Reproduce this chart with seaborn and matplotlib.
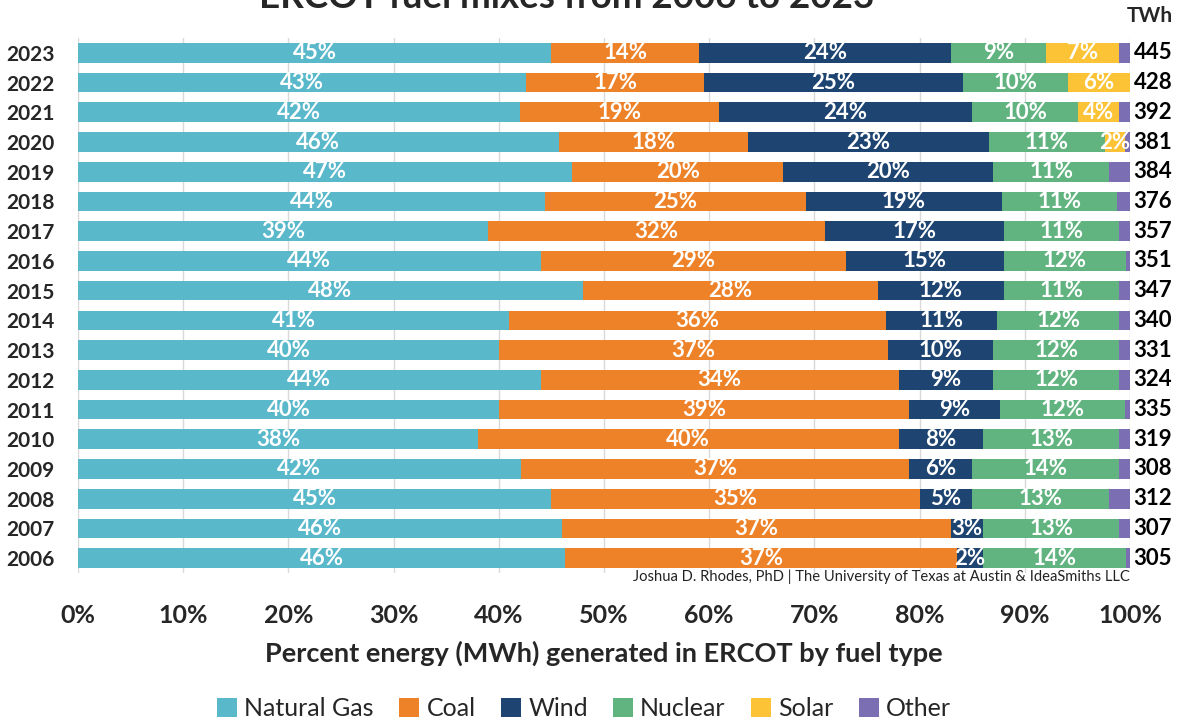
import numpy as np
import pandas as pd
import matplotlib
matplotlib.use("Agg")
import matplotlib.pyplot as plt
import seaborn as sns
from matplotlib.patches import Patch

years = [2023, 2022, 2021, 2020, 2019, 2018, 2017, 2016, 2015,
         2014, 2013, 2012, 2011, 2010, 2009, 2008, 2007, 2006]
fuels = ["Natural Gas", "Coal", "Wind", "Nuclear", "Solar", "Other"]
natural_gas = [45.0, 42.6, 42.0, 45.7, 47.0, 44.4, 39.0, 44.0, 48.0,
               41.0, 40.0, 44.0, 40.0, 38.0, 42.1, 45.0, 46.0, 46.3]
coal = [14.0, 16.9, 18.9, 18.0, 20.0, 24.8, 32.0, 29.0, 28.0,
        35.8, 37.0, 34.0, 39.0, 40.0, 36.9, 35.0, 37.0, 37.3]
wind = [24.0, 24.6, 24.1, 22.9, 20.0, 18.6, 17.0, 15.0, 12.0,
        10.6, 10.0, 9.0, 8.6, 8.0, 6.0, 5.0, 3.0, 2.4]
nuclear = [9.0, 10.0, 10.1, 11.0, 11.0, 11.0, 11.0, 11.6, 11.0,
           11.6, 12.0, 12.0, 11.9, 13.0, 14.0, 13.0, 13.0, 13.6]
solar = [7.0, 5.9, 3.9, 1.9, 0, 0, 0, 0, 0,
         0, 0, 0, 0, 0, 0, 0, 0, 0]
other = [1.0, 0.0, 1.0, 0.5, 2.0, 1.2, 1.0, 0.4, 1.0,
         1.0, 1.0, 1.0, 0.5, 1.0, 1.0, 2.0, 1.0, 0.4]
twh = [445, 428, 392, 381, 384, 376, 357, 351, 347,
       340, 331, 324, 335, 319, 308, 312, 307, 305]
colors = ["#5AB8CB", "#EE8229", "#1E4571", "#61B47F", "#FDC337", "#7C6EB2"]

sns.set_theme(style="white")
plt.rcParams["font.family"] = ["Lato", "DejaVu Sans"]

series = [natural_gas, coal, wind, nuclear, solar, other]
df = pd.DataFrame({f: s for f, s in zip(fuels, series)})
df["Year"] = [str(y) for y in years]
cum = df[fuels].cumsum(axis=1)
order = [str(y) for y in years]

fig = plt.figure(figsize=(11.78, 7.23), dpi=100)
ax = fig.add_axes([78 / 1178, 1 - 573 / 723, 1052 / 1178, 535 / 723])

for i in range(len(fuels) - 1, -1, -1):
    d = pd.DataFrame({"Year": df["Year"], "val": cum[fuels[i]]})
    sns.barplot(data=d, x="val", y="Year", order=order, orient="h",
                color=colors[i], width=0.66, saturation=1, ax=ax,
                zorder=2, linewidth=0)

# percentage labels
for i, f in enumerate(fuels[:-1]):
    for r in range(len(years)):
        v = df[f].iloc[r]
        if v < 1:
            continue
        center = cum[f].iloc[r] - v / 2
        ax.text(center, r, f"{int(round(v))}%", ha="center", va="center",
                color="white", fontsize=16, fontweight="bold", zorder=5)

# TWh totals
for r, t in enumerate(twh):
    ax.text(100.35, r, str(t), ha="left", va="center", fontsize=16,
            fontweight="bold", color="black", clip_on=False)

ax.set_xlim(0, 100)
ax.set_ylim(len(years) - 0.5, -0.5)
ax.set_xticks(np.arange(0, 101, 10))
ax.set_xticklabels([f"{v}%" for v in range(0, 101, 10)])
ax.grid(axis="x", color="#D9D9D9", linewidth=1, zorder=0)
ax.grid(axis="y", visible=False)
ax.set_axisbelow(True)
for s in ax.spines.values():
    s.set_visible(False)
ax.tick_params(axis="x", length=0, pad=22, labelsize=18)
ax.tick_params(axis="y", length=0, pad=17, labelsize=15)
for lbl in ax.get_xticklabels() + ax.get_yticklabels():
    lbl.set_fontweight("bold")
ax.set_ylabel("")
ax.set_xlabel("Percent energy (MWh) generated in ERCOT by fuel type",
              fontsize=19.5, fontweight="bold", labelpad=10)

fig.text(567 / 1178, 1 - 8 / 723, "ERCOT fuel mixes from 2006 to 2023",
         ha="center", va="baseline", fontsize=26.5, fontweight="bold")
fig.text(1150 / 1178, 1 - 16 / 723, "TWh", ha="center", va="center",
         fontsize=15, fontweight="bold")
fig.text(1130 / 1178, 1 - 577 / 723,
         "Joshua D. Rhodes, PhD | The University of Texas at Austin & IdeaSmiths LLC",
         ha="right", va="center", fontsize=10.6, color="#222222")

handles = [Patch(facecolor=c, edgecolor="none", label=f) for c, f in zip(colors, fuels)]
fig.legend(handles=handles, loc="center", bbox_to_anchor=(584 / 1178, 1 - 709 / 723),
           ncol=6, frameon=False, fontsize=18, handlelength=0.8, handleheight=0.8,
           handletextpad=0.3, columnspacing=1.0)

fig.savefig("out.png", dpi=100)
